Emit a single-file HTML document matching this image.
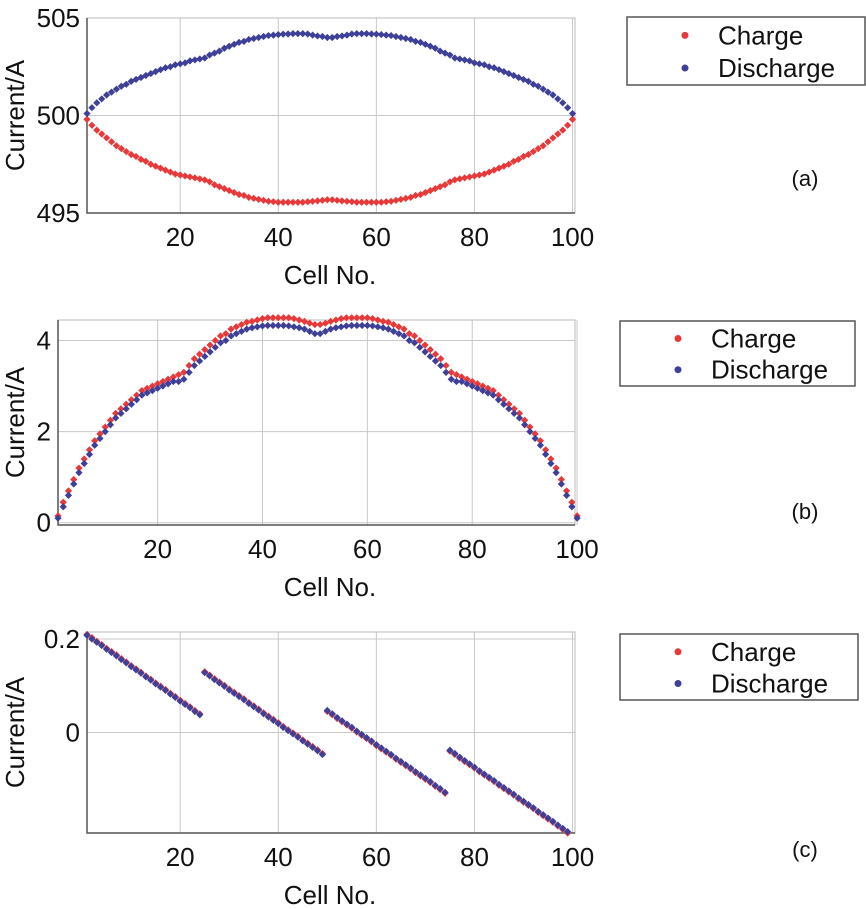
<!DOCTYPE html>
<html><head><meta charset="utf-8"><style>
body{margin:0;background:#fff}
svg{display:block;font-family:"Liberation Sans",Arial,sans-serif}
</style></head><body>
<svg id="fig" width="866" height="909" viewBox="0 0 866 909"></svg>
<script>
const cellsA = Array.from({length:100},(_,i)=>i+1);
const dischargeA = [500.1,500.4,500.65,500.85,501.05,501.2,501.35,501.5,501.6,501.75,501.85,501.95,502.05,502.15,502.25,502.35,502.45,502.5,502.6,502.65,502.7,502.8,502.85,502.9,502.95,503.1,503.2,503.3,503.45,503.55,503.65,503.75,503.8,503.9,503.95,504.0,504.05,504.1,504.12,504.15,504.17,504.18,504.2,504.2,504.2,504.18,504.12,504.08,504.05,504.0,
504.0,504.05,504.08,504.12,504.18,504.2,504.2,504.2,504.18,504.17,504.15,504.12,504.1,504.05,504.0,503.95,503.9,503.8,503.75,503.65,503.55,503.45,503.3,503.2,503.1,502.95,502.9,502.85,502.8,502.7,502.65,502.6,502.5,502.45,502.35,502.25,502.15,502.05,501.95,501.85,501.75,501.6,501.5,501.35,501.2,501.05,500.85,500.65,500.4,500.1];
const chargeA = [499.8,499.5,499.25,499.05,498.85,498.65,498.45,498.3,498.15,498.0,497.9,497.75,497.65,497.5,497.4,497.3,497.2,497.1,497.0,496.95,496.9,496.85,496.8,496.75,496.7,496.6,496.45,496.35,496.25,496.15,496.05,495.95,495.9,495.8,495.75,495.7,495.65,495.6,495.58,495.55,495.55,495.55,495.55,495.55,495.55,495.58,495.6,495.62,495.65,495.68,
495.68,495.65,495.62,495.6,495.58,495.55,495.55,495.55,495.55,495.55,495.55,495.58,495.6,495.65,495.7,495.75,495.8,495.9,495.95,496.05,496.15,496.25,496.35,496.45,496.6,496.7,496.75,496.8,496.85,496.9,496.95,497.0,497.1,497.2,497.3,497.4,497.5,497.65,497.75,497.9,498.0,498.15,498.3,498.45,498.65,498.85,499.05,499.25,499.5,499.8];
const chargeB = [0.15,0.45,0.7,0.95,1.2,1.4,1.6,1.8,1.95,2.1,2.25,2.4,2.5,2.6,2.7,2.8,2.9,2.95,3.0,3.05,3.1,3.15,3.2,3.25,3.3,3.45,3.6,3.7,3.8,3.9,4.0,4.1,4.15,4.25,4.3,4.35,4.4,4.42,4.45,4.48,4.5,4.5,4.5,4.5,4.5,4.48,4.45,4.42,4.38,4.35,
4.35,4.38,4.42,4.45,4.48,4.5,4.5,4.5,4.5,4.5,4.48,4.45,4.42,4.4,4.35,4.3,4.25,4.15,4.1,4.0,3.9,3.8,3.7,3.6,3.45,3.3,3.25,3.2,3.15,3.1,3.05,3.0,2.95,2.9,2.8,2.7,2.6,2.5,2.4,2.25,2.1,1.95,1.8,1.6,1.4,1.2,0.95,0.7,0.45,0.15];
const dischargeB = [0.1,0.35,0.6,0.85,1.1,1.3,1.5,1.7,1.85,2.0,2.15,2.3,2.4,2.5,2.6,2.7,2.8,2.85,2.9,2.95,3.0,3.05,3.1,3.1,3.15,3.3,3.45,3.55,3.65,3.75,3.85,3.95,4.0,4.1,4.15,4.2,4.25,4.28,4.3,4.32,4.33,4.33,4.33,4.33,4.32,4.3,4.28,4.25,4.2,4.15,
4.15,4.2,4.25,4.28,4.3,4.32,4.33,4.33,4.33,4.33,4.32,4.3,4.28,4.25,4.2,4.15,4.1,4.0,3.95,3.85,3.75,3.65,3.55,3.45,3.3,3.15,3.1,3.1,3.05,3.0,2.95,2.9,2.85,2.8,2.7,2.6,2.5,2.4,2.3,2.15,2.0,1.85,1.7,1.5,1.3,1.1,0.85,0.6,0.35,0.1];
const chargeC = [0.21,0.203,0.195,0.188,0.18,0.173,0.166,0.158,0.151,0.143,0.136,0.129,0.121,0.114,0.106,0.099,0.092,0.084,0.077,0.069,0.062,0.055,0.047,0.04,
0.13,0.123,0.115,0.108,0.101,0.093,0.086,0.079,0.072,0.064,0.057,0.05,0.042,0.035,0.028,0.021,0.013,0.006,-0.001,-0.008,-0.016,-0.023,-0.03,-0.037,-0.045,
0.045,0.038,0.03,0.023,0.016,0.009,0.001,-0.006,-0.013,-0.02,-0.028,-0.035,-0.042,-0.049,-0.057,-0.064,-0.071,-0.078,-0.086,-0.093,-0.1,-0.107,-0.115,-0.122,-0.13,
-0.04,-0.047,-0.055,-0.062,-0.069,-0.076,-0.084,-0.091,-0.098,-0.105,-0.113,-0.12,-0.127,-0.134,-0.142,-0.149,-0.156,-0.163,-0.171,-0.178,-0.185,-0.192,-0.2,-0.207,-0.215];
const dischargeC = [0.208,0.2,0.193,0.186,0.178,0.171,0.164,0.156,0.149,0.141,0.134,0.127,0.119,0.112,0.104,0.097,0.09,0.082,0.075,0.067,0.06,0.053,0.045,0.038,
0.128,0.121,0.113,0.106,0.099,0.091,0.084,0.077,0.07,0.062,0.055,0.048,0.04,0.033,0.026,0.019,0.011,0.004,-0.003,-0.01,-0.018,-0.025,-0.032,-0.039,-0.047,
0.047,0.04,0.032,0.025,0.018,0.011,0.003,-0.004,-0.011,-0.018,-0.026,-0.033,-0.04,-0.047,-0.055,-0.062,-0.069,-0.076,-0.084,-0.091,-0.098,-0.105,-0.113,-0.12,-0.128,
-0.038,-0.045,-0.053,-0.06,-0.067,-0.074,-0.082,-0.089,-0.096,-0.103,-0.111,-0.118,-0.125,-0.132,-0.14,-0.147,-0.154,-0.161,-0.169,-0.176,-0.183,-0.19,-0.198,-0.205,-0.212];
const xTicks = [20,40,60,80,100];
const yTicksA = [495,500,505];
const yTicksB = [0,2,4];
const yTicksC = [0,0.2];
const yLabelsC = ["0","0.2"];

const NS="http://www.w3.org/2000/svg";
const svg=document.getElementById('fig');
function mk(tag,attrs,parent){const e=document.createElementNS(NS,tag);for(const k in attrs)e.setAttribute(k,attrs[k]);(parent||svg).appendChild(e);return e;}

function panel(cfg){
  const g=mk('g',{});
  
  
  const sx=v=>cfg.L+(v-cfg.x0)/(cfg.x1-cfg.x0)*(cfg.R-cfg.L);
  const sy=v=>cfg.B-(v-cfg.y0)/(cfg.y1-cfg.y0)*(cfg.B-cfg.T);
  xTicks.forEach(t=>{const l=mk('line',{x1:sx(t),x2:sx(t),y1:cfg.T,y2:cfg.B,stroke:'#c8c8c8','stroke-width':1},g);
    
    const tx=mk('text',{x:sx(t),y:cfg.B+33,'font-size':26,'text-anchor':'middle',fill:'#111'},g);tx.textContent=t;
    });
  cfg.yt.forEach((t,i)=>{const l=mk('line',{x1:cfg.L,x2:cfg.R,y1:sy(t),y2:sy(t),stroke:'#c8c8c8','stroke-width':1},g);
    
    const tx=mk('text',{x:cfg.L-7,y:sy(t)+9,'font-size':26,'text-anchor':'end',fill:'#111'},g);tx.textContent=cfg.yl?cfg.yl[i]:t;
    });
  const fr=mk('rect',{x:cfg.L,y:cfg.T,width:cfg.R-cfg.L,height:cfg.B-cfg.T,fill:'none',stroke:'#bbb','stroke-width':1},g);
  
  const ax=mk('path',{d:`M${cfg.L},${cfg.T}V${cfg.B}H${cfg.R}`,fill:'none',stroke:'#555','stroke-width':1.5},g);
  
  const series=[[cfg.c,'#e8393a','charge-point'],[cfg.d,'#3d3f98','discharge-point']];
  series.forEach(([arr,col,nm])=>{arr.forEach((v,i)=>{const x=sx(cellsA[i]),y=sy(v);
    const p=mk('path',{d:`M${x},${y-3.6}L${x+3.6},${y}L${x},${y+3.6}L${x-3.6},${y}Z`,fill:col},g);
    });});
  const yt=mk('text',{x:0,y:0,'font-size':26,'text-anchor':'middle',fill:'#111',transform:`translate(${cfg.yTitleX},${(cfg.T+cfg.B)/2}) rotate(-90)`},g);
  yt.textContent='Current/A';
  const xt=mk('text',{x:330,y:cfg.B+71,'font-size':26,'text-anchor':'middle',fill:'#111'},g);
  xt.textContent='Cell No.';
  const lg=mk('g',{},g);
  const lb=cfg.lg;
  const r=mk('rect',{x:lb[0],y:lb[1],width:lb[2],height:lb[3],fill:'#fff',stroke:'#555','stroke-width':1.5},lg);
  
  [['Charge','#e8393a',0.3],['Discharge','#3d3f98',0.78]].forEach(([t,c,f])=>{
    const cy=lb[1]+lb[3]*f-2;
    const m=mk('circle',{cx:lb[0]+58,cy:cy,r:3.5,fill:c},lg);
    const tx=mk('text',{x:lb[0]+91,y:cy+9,'font-size':26,fill:'#111'},lg);tx.textContent=t;
    });
  const pl=mk('text',{x:805,y:cfg.tag,'font-size':22,'text-anchor':'middle',fill:'#111'},g);
  pl.textContent=cfg.label;
}
panel({name:'panel-a',L:87,R:575,T:18,B:213,x0:1,x1:100.5,y0:495,y1:505,yt:yTicksA,c:chargeA,d:dischargeA,yTitleX:24,lg:[627,17,238,68],tag:186,label:'(a)'});
panel({name:'panel-b',L:58,R:575,T:320,B:525,x0:1,x1:99.6,y0:-0.05,y1:4.45,yt:yTicksB,c:chargeB,d:dischargeB,yTitleX:24,lg:[620,321,235,65],tag:519,label:'(b)'});
panel({name:'panel-c',L:87,R:575,T:632,B:833,x0:1,x1:100.5,y0:-0.215,y1:0.215,yt:yTicksC,yl:yLabelsC,c:chargeC,d:dischargeC,yTitleX:24,lg:[620,634,238,66],tag:857,label:'(c)'});
</script>
</body></html>
